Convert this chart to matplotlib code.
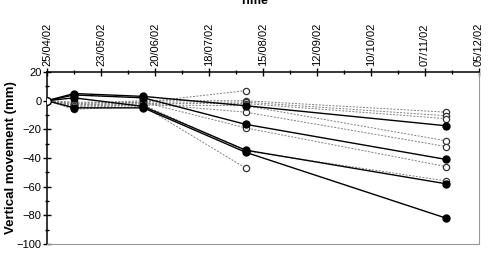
import matplotlib
matplotlib.use('Agg')
import matplotlib.pyplot as plt
import matplotlib.dates as mdates
import numpy as np
import pandas as pd

plt.rcParams['font.family'] = ['Liberation Sans', 'DejaVu Sans']

# survey dates
dates = pd.to_datetime(['25/04/02', '09/05/02', '14/06/02', '06/08/02', '18/11/02'], dayfirst=True)

# settlement points, solid lines / filled markers (mm)
filled = [
    [0, 5, 3, -3.5, -17.5],
    [0, 4, 2, -16.5, -41],
    [0, 2, -4, -34.5, -58],
    [0, -5, -5, -36, -82],
]

# settlement points, dashed lines / open markers (mm), nan = not measured
nan = np.nan
hollow = [
    [0, -1, -1, 7, nan],
    [0, -2, 0, 0, -8],
    [0, -3, -1, -1, -10.5],
    [0, -4, -2, -2, -12.5],
    [0, -5, -3, -3.5, -28],
    [0, -3, -2, -8, -32],
    [0, -2, -1, -19, -46],
    [0, -4, -3, -35, -56],
    [0, -6, -4, -47, nan],
]

x_start, x_end = pd.Timestamp('2002-04-25'), pd.Timestamp('2002-12-05')

fig = plt.figure(figsize=(4.89, 2.54), dpi=100)
ax = fig.add_axes([0.0961, 0.0394, 0.8835, 0.677])

for s in hollow:
    ax.plot(dates, s, ls=(0, (2, 1.5)), lw=0.7, color='#808080', marker='o',
            ms=4.5, mfc='white', mec='#333333', mew=0.9, zorder=2)
for s in filled:
    ax.plot(dates, s, ls='-', lw=1.0, color='black', marker='o',
            ms=5, mfc='black', mec='black', markevery=slice(1, None), zorder=3)
# origin point shown as open marker on top
ax.plot(dates[:1], [hollow[0][0]], 'o', ms=5.5, mfc='white', mec='black', mew=1.0, zorder=4)

ax.set_xlim(x_start, x_end)
ax.set_ylim(-100, 20)

ax.set_xticks(pd.date_range(x_start, x_end, freq='28D'))
ax.set_xticks(pd.date_range(x_start, x_end, freq='14D'), minor=True)
ax.xaxis.set_major_formatter(mdates.DateFormatter('%d/%m/%y'))
ax.xaxis.tick_top()
ax.tick_params(axis='x', which='major', direction='inout', length=6, width=1,
               labelsize=8, labelrotation=90, pad=1)
ax.tick_params(axis='x', which='minor', direction='inout', length=3, width=1)

ax.set_yticks(np.arange(-100, 21, 20))
ax.set_yticks(np.arange(-100, 21, 10), minor=True)
ax.tick_params(axis='y', which='major', direction='inout', length=6, width=1,
               labelsize=8, pad=1)
ax.tick_params(axis='y', which='minor', direction='inout', length=3, width=1)

ax.set_ylabel('Vertical movement (mm)', fontsize=9.5, fontweight='bold')
ax.yaxis.set_label_coords(-0.07, 0.5)

ax.spines['top'].set_color('black')
ax.spines['left'].set_color('black')
ax.spines['top'].set_linewidth(1.1)
ax.spines['left'].set_linewidth(1.1)
ax.spines['right'].set_color('#999999')
ax.spines['bottom'].set_color('#999999')

fig.text(0.52, 1 - 4 / 254, 'Time', ha='center', va='baseline', fontsize=9, fontweight='bold')

fig.savefig('out.png', dpi=100)
